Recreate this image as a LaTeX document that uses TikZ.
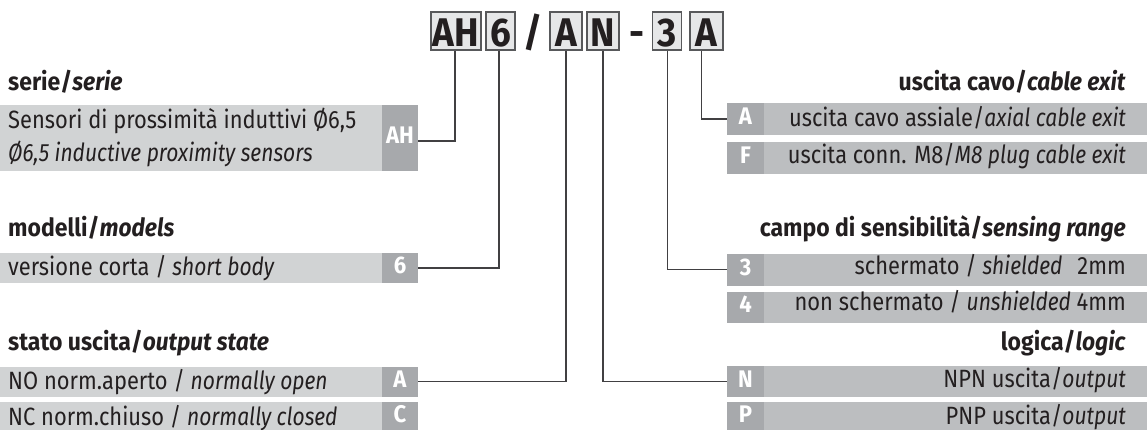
\documentclass[tikz,border=0pt]{standalone}
\usepackage{fontspec}
\setmainfont{Fira Sans}[
  UprightFeatures={FakeStretch=0.875},
  ItalicFeatures={FakeStretch=0.84},
  BoldFeatures={FakeStretch=0.92},
  BoldItalicFeatures={FakeStretch=0.91}]
\definecolor{textc}{HTML}{231F20}
\definecolor{keyfill}{HTML}{A7A9AC}
\definecolor{lbarL}{HTML}{D1D3D4}
\definecolor{lbarR}{HTML}{BCBEC0}
\definecolor{codefill}{HTML}{E6E7E8}
\definecolor{codeline}{HTML}{58595B}
\definecolor{wirec}{HTML}{414042}
\begin{document}
\begin{tikzpicture}[x=1pt,y=-1pt,
  codebox/.style={draw=codeline, fill=codefill, line width=1.6pt, inner sep=0pt,
    minimum height=38pt, text height=30pt, text depth=0pt, text=textc,
    font=\fontsize{40}{40}\selectfont\bfseries},
  codesep/.style={anchor=base, inner sep=0pt, text=textc, font=\fontsize{40}{40}\selectfont\bfseries},
  keybox/.style={fill=keyfill, text=white, inner sep=0pt, text height=11pt, text depth=0pt,
    font=\fontsize{24}{24}\selectfont\bfseries},
  keyL/.style={keybox, minimum width=36pt},
  keyR/.style={keybox, minimum width=37pt},
  barL/.style={fill=lbarL},
  barR/.style={fill=lbarR},
  txtL/.style={anchor=base west, inner sep=0pt, text=textc, font=\fontsize{25}{25}\selectfont},
  txtR/.style={anchor=base east, inner sep=0pt, text=textc, font=\fontsize{25}{25}\selectfont},
  headL/.style={txtL, font=\fontsize{25}{25}\selectfont\bfseries},
  headR/.style={txtR, font=\fontsize{25}{25}\selectfont\bfseries},
  wire/.style={draw=wirec, line width=1.3pt}
]
\useasboundingbox (0,0) rectangle (1147,429);

% code boxes
\node[codebox, minimum width=50pt] (cAH) at (456,31) {AH};
\node[codebox, minimum width=29pt] (c6) at (500.5,31) {6};
\node[codesep] (slash) at (533,46) {/};
\node[codebox, minimum width=32pt] (cA) at (566,31) {A};
\node[codebox, minimum width=32pt] (cN) at (603,31) {N};
\node[codesep] (dash) at (637,46) {-};
\node[codebox, minimum width=29pt] (c3) at (667,31) {3};
\node[codebox, minimum width=33pt] (cA2) at (706.3,31) {A};

% left bars
\fill[barL] (0,105) rectangle (382,171);
\fill[barL] (0,253) rectangle (382,283);
\fill[barL] (0,366.5) rectangle (382,396.5);
\fill[barL] (0,402) rectangle (382,432);
\node[keyL, minimum height=66pt] (kAH) at (400,138) {AH};
\node[keyL, minimum height=30pt] (k6) at (400,268) {6};
\node[keyL, minimum height=30pt] (kA) at (400,381.5) {A};
\node[keyL, minimum height=30pt] (kC) at (400,417) {C};

% right bars
\fill[barR] (764,103) rectangle (1147,135);
\fill[barR] (764,141.5) rectangle (1147,173.5);
\fill[barR] (764,253.5) rectangle (1147,285.5);
\fill[barR] (764,291.5) rectangle (1147,322.5);
\fill[barR] (764,366) rectangle (1147,397);
\fill[barR] (764,402) rectangle (1147,432);
\node[keyR, minimum height=32pt] (kA2) at (745.5,119) {A};
\node[keyR, minimum height=32pt] (kF) at (745.5,157.5) {F};
\node[keyR, minimum height=32pt] (k3) at (745.5,269.5) {3};
\node[keyR, minimum height=31pt] (k4) at (745.5,307) {4};
\node[keyR, minimum height=31pt] (kN) at (745.5,381.5) {N};
\node[keyR, minimum height=30pt] (kP) at (745.5,417) {P};

% left texts
\node[headL] (h1) at (8,90) {serie/\textit{serie}};
\node[txtL] (t1) at (8,128.3) {Sensori di prossimità induttivi Ø6,5};
\node[txtL] (t2) at (8,161.7) {\textit{Ø6,5 inductive proximity sensors}};
\node[headL] (h2) at (8,236.7) {modelli/\textit{models}};
\node[txtL] (t3) at (8,275) {versione corta / \textit{short body}};
\node[headL] (h3) at (8,350) {stato uscita/\textit{output state}};
\node[txtL] (t4) at (8,389) {NO norm.aperto / \textit{normally open}};
\node[txtL] (t5) at (8,425) {NC norm.chiuso / \textit{normally closed}};

% right texts
\node[headR] (h4) at (1126,90) {uscita cavo/\textit{cable exit}};
\node[txtR] (t6) at (1126,126.7) {uscita cavo assiale/\textit{axial cable exit}};
\node[txtR] (t7) at (1126,163.3) {uscita conn. M8/\textit{M8 plug cable exit}};
\node[headR] (h5) at (1126,236.7) {campo di sensibilità/\textit{sensing range}};
\node[txtR] (t8) at (1126,274) {schermato / \textit{shielded}\hspace{0.6em}2mm};
\node[txtR] (t9) at (1126,310.7) {non schermato / \textit{unshielded} 4mm};
\node[headR] (h6) at (1126,350) {logica/\textit{logic}};
\node[txtR] (t10) at (1126,387) {NPN uscita/\textit{output}};
\node[txtR] (t11) at (1126,424) {PNP uscita/\textit{output}};

% connectors
\draw[wire] ([xshift=-1pt]cAH.south) |- ([yshift=-3pt]kAH.east);
\draw[wire] ([xshift=-1.5pt]c6.south) |- (k6.east);
\draw[wire] (cA.south) |- (kA.east);
\draw[wire] (cN.south) |- (kN.west);
\draw[wire] ([xshift=0.7pt]c3.south) |- (k3.west);
\draw[wire] ([xshift=-4.6pt]cA2.south) |- (kA2.west);
\end{tikzpicture}
\end{document}
